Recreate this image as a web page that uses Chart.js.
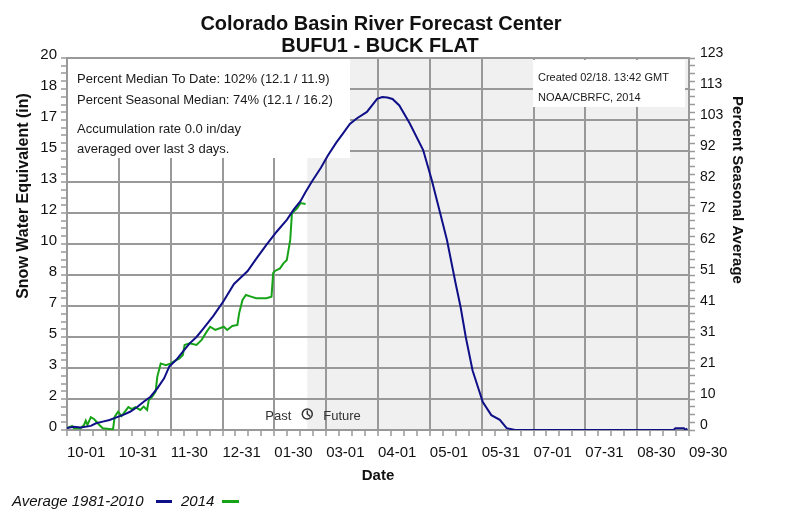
<!DOCTYPE html>
<html>
<head>
<meta charset="utf-8">
<script src="https://cdn.jsdelivr.net/npm/chart.js@4.4.1/dist/chart.umd.min.js"></script>
<style>
  html, body { margin: 0; padding: 0; background: #fff; }
  #wrap { width: 800px; height: 521px; }
</style>
</head>
<body>
<div id="wrap"><canvas id="swe" width="800" height="521"></canvas></div>
<script>
const FONT = "'Liberation Sans', Arial, Helvetica, sans-serif";

// tick labels, 12 equal steps over the water year (Oct 1 -> Sep 30)
const xTickLabels = ["10-01", "10-31", "11-30", "12-31", "01-30", "03-01", "04-01",
  "05-01", "05-31", "07-01", "07-31", "08-30", "09-30"];
const sweTickLabels = ["0", "2", "3", "5", "7", "8", "10", "12", "13", "15", "17", "18", "20"];
const pctTickLabels = ["0", "10", "21", "31", "41", "51", "62", "72", "82", "92", "103", "113", "123"];

// Average 1981-2010 (days since Oct 1, inches)
const avgDays = [0, 4, 8, 14, 17, 21, 25, 29, 33, 37, 41, 45, 49, 53, 57, 60, 64, 68, 72, 76,
  80, 86, 92, 98, 102, 106, 111, 117, 123, 129, 133, 137, 140, 144, 149, 153, 158, 162, 166, 170,
  176, 182, 185, 188, 191, 195, 201, 209, 214, 219, 223, 228, 231, 234, 238, 244, 249, 254, 258, 263,
  300, 356, 357, 362, 363, 364];
const avgSwe = [0.1, 0.18, 0.14, 0.22, 0.36, 0.45, 0.54, 0.68, 0.81, 0.98, 1.22, 1.52, 1.79, 2.24, 2.78, 3.41, 3.76, 4.21, 4.66, 5.0,
  5.45, 6.15, 6.95, 7.85, 8.2, 8.55, 9.2, 9.95, 10.66, 11.3, 11.85, 12.3, 12.8, 13.4, 14.1, 14.75, 15.45, 15.95, 16.45, 16.75,
  17.1, 17.8, 17.9, 17.88, 17.8, 17.45, 16.5, 15.05, 13.45, 11.65, 10.2, 7.9, 6.6, 5.0, 3.2, 1.5, 0.8, 0.55, 0.1, 0,
  0, 0, 0.1, 0.1, 0, 0.08];

// Water year 2014 observed
const wy2014Days = [0, 3, 4, 8, 10, 11, 12, 14, 16, 19, 21, 26, 27, 28, 30, 32, 34, 36, 38, 40,
  43, 45, 47, 48, 50, 52, 53, 55, 58, 61, 63, 66, 68, 69, 72, 76, 79, 82, 84, 87,
  92, 94, 97, 100, 101, 103, 105, 108, 111, 117, 120, 121, 122, 125, 127, 129, 130, 131, 132, 135,
  137, 140];
const wy2014Swe = [0.1, 0.22, 0.09, 0.09, 0.27, 0.5, 0.27, 0.69, 0.58, 0.27, 0.09, 0.04, 0.04, 0.72, 0.99, 0.75, 0.99, 1.23, 1.12, 1.23,
  1.08, 1.26, 1.08, 1.61, 1.79, 2.06, 2.87, 3.58, 3.49, 3.58, 3.71, 3.85, 4.03, 4.57, 4.66, 4.57, 4.84, 5.29, 5.55, 5.38,
  5.55, 5.38, 5.59, 5.65, 6.27, 6.99, 7.26, 7.17, 7.08, 7.08, 7.17, 8.45, 8.55, 8.69, 8.96, 9.14, 9.68, 10.22, 11.65, 11.92,
  12.2, 12.15];

const todayDay = 141; // 02-18, past / future split
const gridGray = "#999999";
const MINOR = 4;

// major ticks every 1/12 of the range, with 3 minor ticks between
function quarterTicks(max) {
  return (scale) => {
    scale.ticks = [];
    for (let i = 0; i <= 12 * MINOR; i++) scale.ticks.push({ value: i * max / (12 * MINOR) });
  };
}
const majorLabel = (labels) => (v, i) => (i % MINOR === 0 ? labels[i / MINOR] : "");
const majorColor = (ctx) => (ctx.index % MINOR === 0 ? gridGray : "rgba(0,0,0,0)");

const decor = {
  id: "decor",
  beforeDraw(chart) {
    const { ctx, chartArea: a, scales } = chart;
    ctx.save();
    ctx.fillStyle = "#ffffff";
    ctx.fillRect(0, 0, chart.width, chart.height);
    // future part of the year is shaded
    const xs = scales.x.getPixelForValue(todayDay);
    ctx.fillStyle = "#f0f0f0";
    ctx.fillRect(xs, a.top, a.right - xs, a.bottom - a.top);
    ctx.restore();
  },
  beforeDatasetsDraw(chart) {
    const { ctx, chartArea: a } = chart;
    ctx.save();
    // info boxes
    ctx.fillStyle = "#ffffff";
    ctx.fillRect(a.left, a.top, 283, 100);
    ctx.fillRect(a.right - 156, a.top + 2, 152, 47);
    ctx.fillStyle = "#1a1a1a";
    ctx.textAlign = "left";
    ctx.textBaseline = "alphabetic";
    ctx.font = "13px " + FONT;
    ctx.fillText("Percent Median To Date: 102% (12.1 / 11.9)", a.left + 10, 83);
    ctx.fillText("Percent Seasonal Median: 74% (12.1 / 16.2)", a.left + 10, 104);
    ctx.fillText("Accumulation rate 0.0 in/day", a.left + 10, 133);
    ctx.fillText("averaged over last 3 days.", a.left + 10, 153);
    ctx.font = "11px " + FONT;
    ctx.fillText("Created 02/18. 13:42 GMT", a.right - 151, 81);
    ctx.fillText("NOAA/CBRFC, 2014", a.right - 151, 101);

    // frame
    ctx.strokeStyle = gridGray;
    ctx.lineWidth = 2;
    ctx.strokeRect(a.left, a.top, a.right - a.left, a.bottom - a.top);

    // Past / Future marker
    const xs = chart.scales.x.getPixelForValue(todayDay);
    ctx.font = "13px " + FONT;
    ctx.fillStyle = "#333";
    ctx.textAlign = "right";
    ctx.fillText("Past", xs - 16, 420);
    ctx.textAlign = "left";
    ctx.fillText("Future", xs + 16, 420);
    ctx.strokeStyle = "#333";
    ctx.lineWidth = 1.5;
    ctx.beginPath();
    ctx.arc(xs, 414, 5, 0, Math.PI * 2);
    ctx.stroke();
    ctx.beginPath();
    ctx.moveTo(xs, 410.5);
    ctx.lineTo(xs, 414);
    ctx.lineTo(xs + 3, 416.5);
    ctx.stroke();
    ctx.restore();
  },
  afterDraw(chart) {
    const { ctx, chartArea: a } = chart;
    ctx.save();
    ctx.fillStyle = "#111";
    ctx.textAlign = "center";
    ctx.textBaseline = "alphabetic";
    ctx.font = "bold 20px " + FONT;
    ctx.fillText("Colorado Basin River Forecast Center", 381, 30);
    ctx.fillText("BUFU1 - BUCK FLAT", 380, 52);

    ctx.font = "bold 15px " + FONT;
    ctx.fillText("Date", (a.left + a.right) / 2, 480);

    ctx.save();
    ctx.translate(28, 196);
    ctx.rotate(-Math.PI / 2);
    ctx.font = "bold 16px " + FONT;
    ctx.fillText("Snow Water Equivalent (in)", 0, 0);
    ctx.restore();

    ctx.save();
    ctx.translate(733, 190);
    ctx.rotate(Math.PI / 2);
    ctx.font = "bold 15px " + FONT;
    ctx.fillText("Percent Seasonal Average", 0, 0);
    ctx.restore();

    // legend, text first then swatch
    ctx.textAlign = "left";
    ctx.font = "italic 15px " + FONT;
    ctx.fillText("Average 1981-2010", 12, 506);
    ctx.fillStyle = chart.data.datasets[0].borderColor;
    ctx.fillRect(156, 500, 16, 3);
    ctx.fillStyle = "#111";
    ctx.fillText("2014", 181, 506);
    ctx.fillStyle = chart.data.datasets[1].borderColor;
    ctx.fillRect(222, 500, 17, 3);
    ctx.restore();
  }
};

new Chart(document.getElementById("swe"), {
  type: "line",
  plugins: [decor],
  data: {
    datasets: [
      {
        label: "Average 1981-2010",
        data: avgDays.map((d, i) => ({ x: d, y: avgSwe[i] })),
        borderColor: "#0f0f88",
        borderWidth: 2,
        pointRadius: 0,
        tension: 0,
        yAxisID: "y"
      },
      {
        label: "2014",
        data: wy2014Days.map((d, i) => ({ x: d, y: wy2014Swe[i] })),
        borderColor: "#17a317",
        borderWidth: 2,
        pointRadius: 0,
        tension: 0,
        yAxisID: "y"
      }
    ]
  },
  options: {
    responsive: false,
    animation: false,
    layout: { padding: { top: 58, left: 0, right: 0, bottom: 0 } },
    plugins: { legend: { display: false }, tooltip: { enabled: false }, title: { display: false } },
    scales: {
      x: {
        type: "linear",
        position: "bottom",
        min: 0,
        max: 365,
        afterBuildTicks: quarterTicks(365),
        afterFit: (s) => { s.height = 91; },
        border: { display: false },
        grid: { color: majorColor, lineWidth: 2, tickColor: gridGray, tickWidth: 1.5, tickLength: 6 },
        ticks: {
          autoSkip: false, maxRotation: 0, minRotation: 0, align: "start", padding: 8,
          color: "#111", font: { family: FONT, size: 15 },
          callback: majorLabel(xTickLabels)
        }
      },
      y: {
        position: "left",
        min: 0,
        max: 20,
        afterBuildTicks: quarterTicks(20),
        afterFit: (s) => { s.width = 67; },
        border: { display: false },
        grid: { color: majorColor, lineWidth: 2, tickColor: gridGray, tickWidth: 1.5, tickLength: 6 },
        ticks: {
          autoSkip: false, padding: 4, labelOffset: -3,
          color: "#111", font: { family: FONT, size: 15 },
          callback: majorLabel(sweTickLabels)
        }
      },
      y2: {
        position: "right",
        min: 0,
        max: 123,
        afterBuildTicks: quarterTicks(123),
        afterFit: (s) => { s.width = 111; },
        border: { display: false },
        grid: { drawOnChartArea: false, color: gridGray, tickColor: gridGray, tickWidth: 1.5, tickLength: 6 },
        ticks: {
          autoSkip: false, padding: 5, labelOffset: -5,
          color: "#111", font: { family: FONT, size: 14 },
          callback: majorLabel(pctTickLabels)
        }
      }
    }
  }
});
</script>
</body>
</html>
